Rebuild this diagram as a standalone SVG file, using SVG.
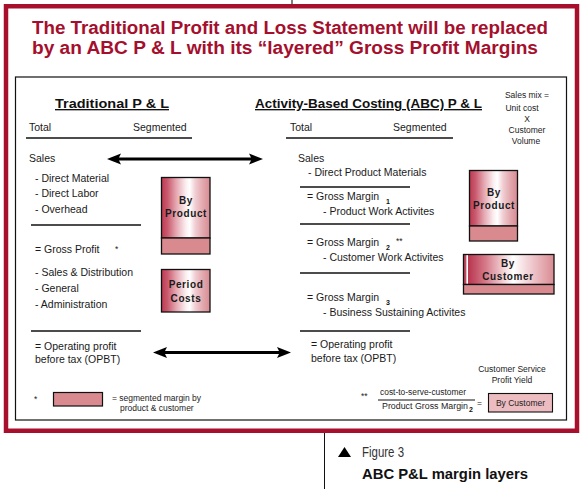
<svg xmlns="http://www.w3.org/2000/svg" width="581" height="489" viewBox="0 0 581 489">
<defs>
<linearGradient id="grad" x1="0" y1="0" x2="1" y2="0">
<stop offset="0" stop-color="#bd3a52"/>
<stop offset="0.12" stop-color="#c9586c"/>
<stop offset="0.3" stop-color="#e4a6b0"/>
<stop offset="0.5" stop-color="#fbeef0"/>
<stop offset="0.58" stop-color="#ffffff"/>
<stop offset="0.7" stop-color="#f0cdd2"/>
<stop offset="0.85" stop-color="#e2a8ae"/>
<stop offset="1" stop-color="#d88a92"/>
</linearGradient>
<linearGradient id="gradC" x1="0" y1="0" x2="1" y2="0">
<stop offset="0" stop-color="#c2475e"/>
<stop offset="0.03" stop-color="#c2475e"/>
<stop offset="0.035" stop-color="#ffffff"/>
<stop offset="0.05" stop-color="#ffffff"/>
<stop offset="0.055" stop-color="#b93650"/>
<stop offset="0.25" stop-color="#d67c8b"/>
<stop offset="0.45" stop-color="#f3d6da"/>
<stop offset="0.55" stop-color="#ffffff"/>
<stop offset="0.75" stop-color="#efc9ce"/>
<stop offset="1" stop-color="#d98b92"/>
</linearGradient>
</defs>
<style>
.t{font-family:"Liberation Sans",Arial,sans-serif;font-size:10.5px;fill:#1a1a1a}
.s{font-family:"Liberation Sans",Arial,sans-serif;font-size:8.5px;fill:#222}
.h{font-family:"Liberation Sans",Arial,sans-serif;font-size:13.5px;font-weight:bold;fill:#111;text-decoration:underline}
.title{font-family:"Liberation Sans",Arial,sans-serif;font-size:17.5px;font-weight:bold;fill:#a50f2e}
.bx{font-family:"Liberation Sans",Arial,sans-serif;font-size:10px;font-weight:bold;fill:#1a1a1a;text-anchor:middle;letter-spacing:0.6px}
.sub{font-family:"Liberation Sans",Arial,sans-serif;font-size:7px;font-weight:bold;fill:#111}
.rule{stroke:#111;stroke-width:1.3;fill:none}
.box{fill:url(#grad);stroke:#111;stroke-width:1.3}
.band{fill:#d98a8f;stroke:#111;stroke-width:1.3}
.arrow{fill:#000}
</style>
<rect width="581" height="489" fill="#ffffff"/>
<line x1="292" y1="0" x2="292" y2="5" stroke="#000" stroke-width="1"/>
<rect x="6" y="6.25" width="571" height="424.5" fill="none" stroke="#a80f2c" stroke-width="4.5"/>
<rect x="15.5" y="77" width="551" height="343" fill="none" stroke="#111" stroke-width="1.2"/>

<g id="title">
<text class="title" x="32" y="34" textLength="516" lengthAdjust="spacingAndGlyphs">The Traditional Profit and Loss Statement will be replaced</text>
<text class="title" x="32" y="53.5" textLength="506" lengthAdjust="spacingAndGlyphs">by an ABC P &amp; L with its “layered” Gross Profit Margins</text>
</g>

<g id="traditional">
<text class="h" x="55" y="108" textLength="114" lengthAdjust="spacingAndGlyphs">Traditional P &amp; L</text>
<text class="t" x="29" y="131">Total</text>
<text class="t" x="133" y="131">Segmented</text>
<line class="rule" x1="26" y1="138" x2="192" y2="138"/>
<text class="t" x="29" y="162">Sales</text>
<text class="t" x="35" y="182">- Direct Material</text>
<text class="t" x="35" y="197">- Direct Labor</text>
<text class="t" x="35" y="213">- Overhead</text>
<line class="rule" x1="31" y1="225" x2="141" y2="225"/>
<text class="t" x="35" y="253">= Gross Profit</text>
<text class="s" x="115" y="252">*</text>
<text class="t" x="35" y="276">- Sales &amp; Distribution</text>
<text class="t" x="35" y="292">- General</text>
<text class="t" x="35" y="308">- Administration</text>
<line class="rule" x1="31" y1="331" x2="141" y2="331"/>
<text class="t" x="35" y="350">= Operating profit</text>
<text class="t" x="35" y="363">before tax (OPBT)</text>
</g>

<g id="abc">
<text class="h" x="255" y="108" textLength="227" lengthAdjust="spacingAndGlyphs">Activity-Based Costing (ABC) P &amp; L</text>
<text class="t" x="290" y="131">Total</text>
<text class="t" x="393" y="131">Segmented</text>
<line class="rule" x1="286" y1="138" x2="453" y2="138"/>
<text class="t" x="298" y="162">Sales</text>
<text class="t" x="308" y="176">- Direct Product Materials</text>
<line class="rule" x1="300" y1="187" x2="410" y2="187"/>
<text class="t" x="307" y="200">= Gross Margin</text>
<text class="sub" x="386" y="204">1</text>
<text class="t" x="323" y="215">- Product Work Activites</text>
<line class="rule" x1="300" y1="224" x2="410" y2="224"/>
<text class="t" x="307" y="246">= Gross Margin</text>
<text class="sub" x="386" y="250">2</text>
<text class="s" x="396" y="244">**</text>
<text class="t" x="323" y="261">- Customer Work Activites</text>
<line class="rule" x1="300" y1="273" x2="410" y2="273"/>
<text class="t" x="307" y="301">= Gross Margin</text>
<text class="sub" x="386" y="305">3</text>
<text class="t" x="323" y="316">- Business Sustaining Activites</text>
<line class="rule" x1="300" y1="331" x2="410" y2="331"/>
<text class="t" x="311" y="348">= Operating profit</text>
<text class="t" x="311" y="362">before tax (OPBT)</text>
</g>

<g id="sales-mix" text-anchor="middle">
<text class="s" x="527" y="98" font-size="8">Sales mix =</text>
<text class="s" x="522" y="111" font-size="8">Unit cost</text>
<text class="s" x="527" y="122" font-size="8">X</text>
<text class="s" x="527" y="133" font-size="8">Customer</text>
<text class="s" x="526" y="144" font-size="8">Volume</text>
</g>

<g id="by-product-left">
<rect class="box" x="161.5" y="177.5" width="48.5" height="60.5"/>
<rect class="band" x="161.5" y="238" width="48.5" height="16"/>
<text class="bx" x="186" y="204">By</text>
<text class="bx" x="186" y="217">Product</text>
</g>

<g id="period-costs">
<rect class="box" x="161.5" y="269.5" width="48.5" height="42.5"/>
<text class="bx" x="186" y="288">Period</text>
<text class="bx" x="186" y="302">Costs</text>
</g>

<g id="by-product-right">
<rect class="box" x="469.5" y="170.5" width="48" height="55.5"/>
<rect class="band" x="469.5" y="226" width="48" height="15"/>
<text class="bx" x="494" y="196">By</text>
<text class="bx" x="494" y="209">Product</text>
</g>

<g id="by-customer">
<rect x="463.5" y="254.5" width="90.5" height="30" fill="url(#gradC)" stroke="#111" stroke-width="1.3"/>
<rect class="band" x="463.5" y="284.5" width="90.5" height="9.5" stroke-width="1.6"/>
<text class="bx" x="508" y="267">By</text>
<text class="bx" x="508" y="280">Customer</text>
</g>

<g id="connectors">
<path class="arrow" d="M107,159 L121,153.5 L119,157.5 L251,157.5 L249,153.5 L263,159 L249,164.5 L251,160.5 L119,160.5 L121,164.5 Z"/>
<path class="arrow" d="M153,352.5 L167,347 L165,351 L279,351 L277,347 L291,352.5 L277,358 L279,354 L165,354 L167,358 Z"/>
</g>

<g id="legend">
<text class="s" x="34" y="402">*</text>
<rect x="53.5" y="392.5" width="49" height="13.5" fill="#d98a8f" stroke="#111" stroke-width="1.2"/>
<text class="s" x="112" y="401">= segmented margin by</text>
<text class="s" x="120" y="411">product &amp; customer</text>
</g>

<g id="yield">
<text class="s" x="512" y="372" text-anchor="middle" font-size="8">Customer Service</text>
<text class="s" x="512" y="383" text-anchor="middle" font-size="8">Profit Yield</text>
<text class="s" x="361" y="399" font-size="8">**</text>
<text class="s" x="380" y="395" font-size="8" textLength="86" lengthAdjust="spacingAndGlyphs">cost-to-serve-customer</text>
<line x1="378" y1="400" x2="475" y2="400" stroke="#111" stroke-width="1"/>
<text class="s" x="382" y="408.5" font-size="8" textLength="86" lengthAdjust="spacingAndGlyphs">Product Gross Margin</text>
<text class="sub" x="469" y="412" font-size="6">2</text>
<text class="s" x="477" y="406" font-size="8">=</text>
<rect x="488.5" y="393.5" width="64" height="18.5" fill="#ecbcc1" stroke="#111" stroke-width="1.1"/>
<text class="s" x="520.5" y="406" text-anchor="middle" font-size="8.5">By Customer</text>
</g>

<g id="caption">
<line x1="324.5" y1="433" x2="324.5" y2="489" stroke="#111" stroke-width="1"/>
<path d="M338,457 L344.5,447 L351,457 Z" fill="#000"/>
<text x="362" y="457" font-family="'Liberation Sans',Arial,sans-serif" font-size="14" fill="#333" textLength="42" lengthAdjust="spacingAndGlyphs">Figure 3</text>
<text x="362" y="479" font-family="'Liberation Sans',Arial,sans-serif" font-size="14.5" font-weight="bold" fill="#111" textLength="166" lengthAdjust="spacingAndGlyphs">ABC P&amp;L margin layers</text>
</g>
</svg>
